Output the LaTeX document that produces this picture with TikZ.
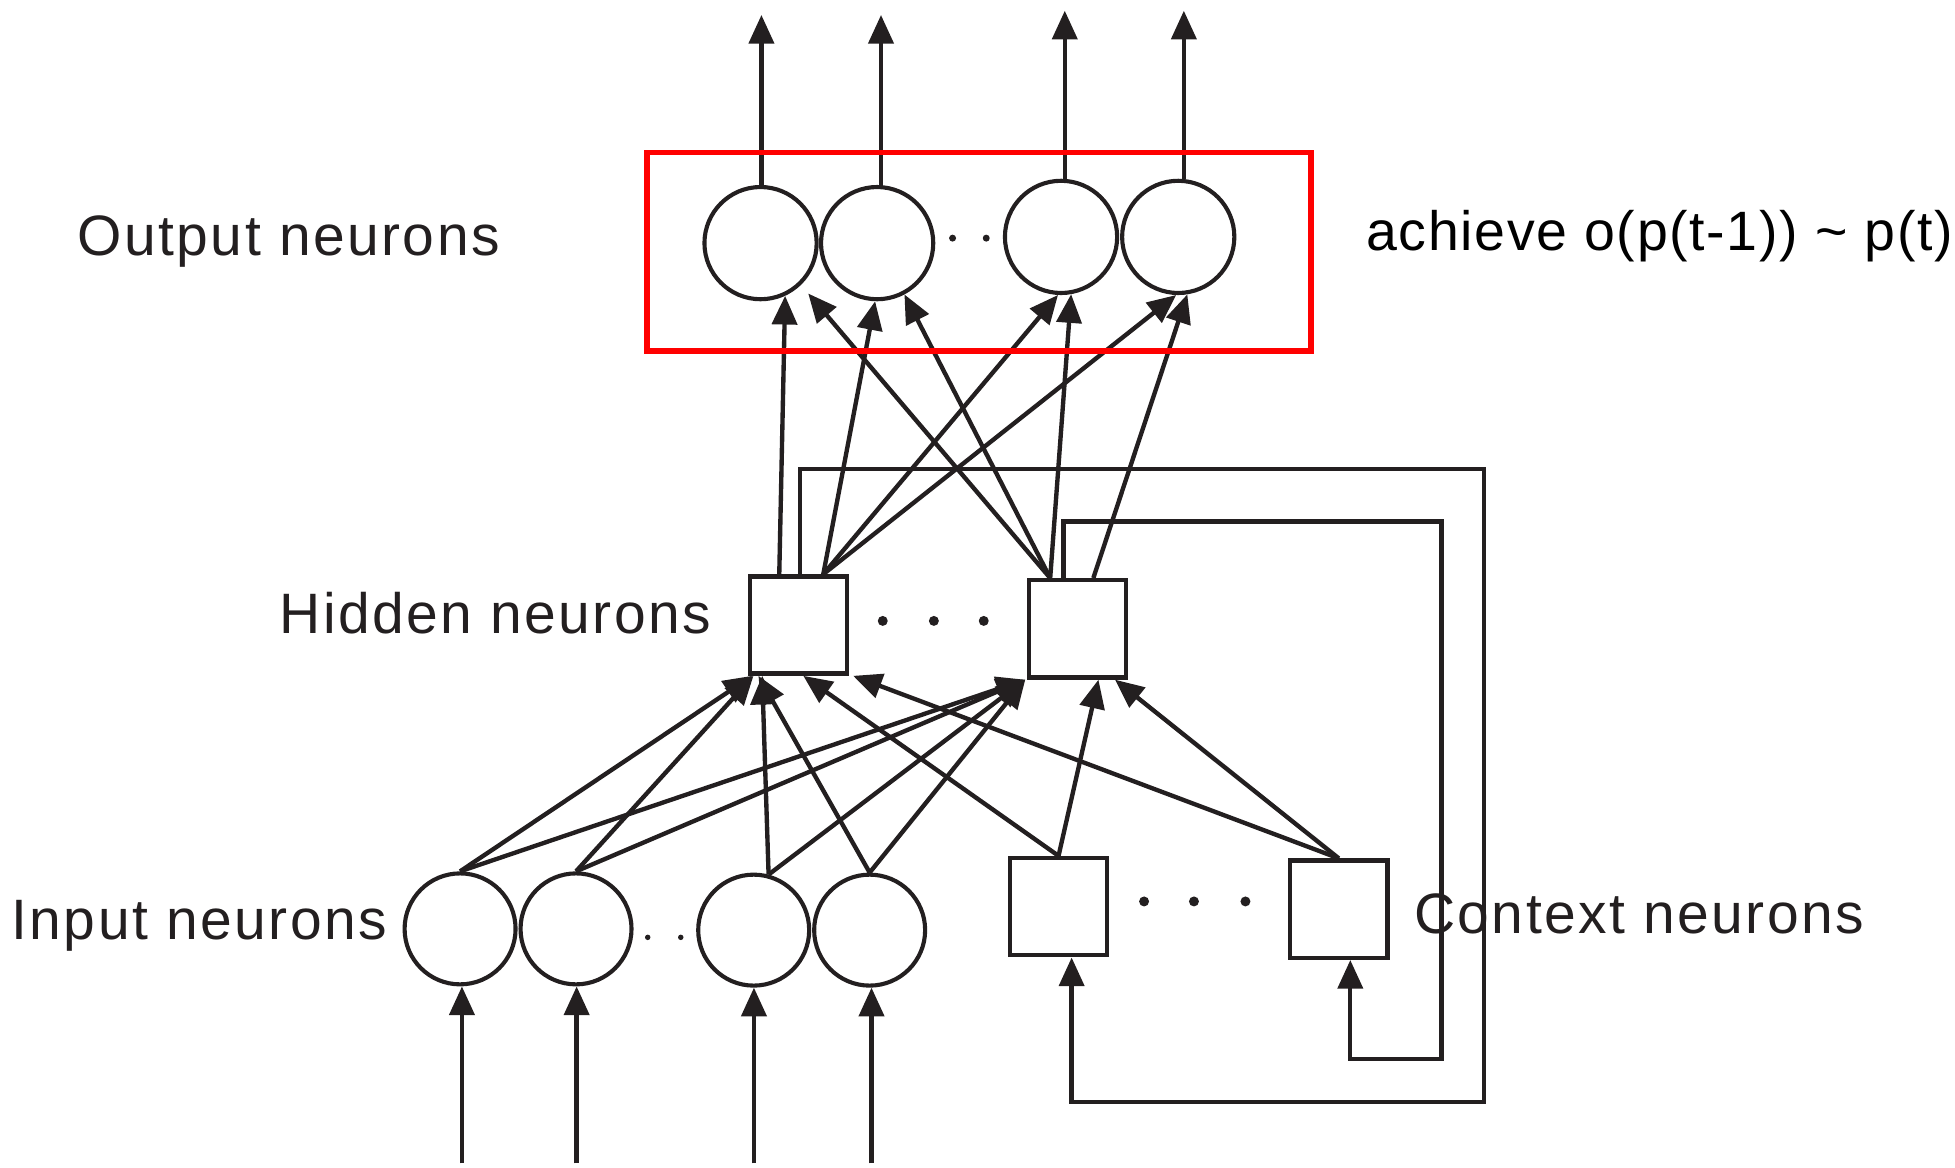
\documentclass[tikz,border=0pt]{standalone}
\usepackage{fontspec}
\usetikzlibrary{arrows.meta}
\newfontfamily\lblfont[LetterSpace=4.3]{Liberation Sans}
\newfontfamily\notefont[LetterSpace=3]{Liberation Sans}
\definecolor{ink}{HTML}{231F20}
\begin{document}
\begin{tikzpicture}[x=1pt,y=-1pt,
  ln/.style={line width=3.5pt, draw=ink},
  arr/.style={ln, -{Triangle[length=23pt,width=20pt]}},
  neuron/.style={circle, draw=ink, line width=3.3pt, minimum size=90pt, inner sep=0pt},
  unitbox/.style={rectangle, draw=ink, line width=3.5pt, minimum width=78pt, minimum height=78pt, inner sep=0pt},
  lbl/.style={anchor=base west, inner sep=0pt, text=ink, font=\lblfont\fontsize{45.7}{50}\selectfont},
  note/.style={anchor=base west, inner sep=0pt, text=black, font=\notefont\fontsize{44.5}{48}\selectfont},
  hlbox/.style={rectangle, draw=red, line width=4.5pt, inner sep=0pt}
]
\useasboundingbox (0,0) rectangle (1568,936);

% output neurons
\node[neuron] (o1) at (610,195) {};
\node[neuron] (o2) at (703.5,195) {};
\node[neuron] (o3) at (851,190) {};
\node[neuron] (o4) at (945,190) {};
\fill[ink] (764,191) circle (2.8pt) (791,191) circle (2.8pt);

% hidden neurons
\node[unitbox] (h1) at (640.3,501.3) {};
\node[unitbox] (h2) at (864.3,504.4) {};
\fill[ink] (708,498) circle (4pt) (749,498) circle (4pt) (789,498) circle (4pt);

% input neurons
\node[neuron, minimum size=89pt] (i1) at (369,745) {};
\node[neuron, minimum size=89pt] (i2) at (462,745) {};
\node[neuron, minimum size=89pt] (i3) at (604.5,746) {};
\node[neuron, minimum size=89pt] (i4) at (697.5,746) {};
\fill[ink] (519.5,751.8) circle (2.2pt) (546,751.8) circle (2.2pt);

% context neurons
\node[unitbox] (c1) at (849,727.2) {};
\node[unitbox] (c2) at (1073.8,729.2) {};
\fill[ink] (917.6,723) circle (4pt) (957.6,723) circle (4pt) (998.9,723) circle (4pt);

% labels
\node[lbl] (lo) at (62,205) {Output neurons};
\node[lbl] (lh) at (224,507.7) {Hidden neurons};
\node[lbl] (li) at (9,753.3) {Input neurons};
\node[lbl] (lc) at (1134,748.6) {Context neurons};
\node[note] (la) at (1095.5,201) {achieve o(p(t-1)) \textasciitilde{} p(t)};

% output arrows
\coordinate (up1) at (610.7,12);
\coordinate (up2) at (706.6,12);
\coordinate (up3) at (854,8.6);
\coordinate (up4) at (949.5,8.6);
\draw[arr] (o1.north -| up1) -- (up1);
\draw[arr] (o2.north -| up2) -- (up2);
\draw[arr] (o3.north -| up3) -- (up3);
\draw[arr] (o4.north -| up4) -- (up4);

% input arrows
\coordinate (in1) at (370.5,933);
\coordinate (in2) at (462.5,933);
\coordinate (in3) at (604.7,933);
\coordinate (in4) at (699,933);
\draw[arr] (in1) -- (in1 |- i1.south);
\draw[arr] (in2) -- (in2 |- i2.south);
\draw[arr] (in3) -- (in3 |- i3.south);
\draw[arr] (in4) -- (in4 |- i4.south);

% input/context -> hidden
\draw[arr] (i1.north) -- ([xshift=-37pt]h1.south);
\draw[arr] (i2.north) -- ([xshift=-36pt]h1.south);
\draw[arr] (i3.75) -- ([xshift=-29pt]h1.south);
\draw[arr] (i4.north) -- ([xshift=-32pt]h1.south);
\draw[arr] (c1.north) -- ([xshift=4pt]h1.south);
\draw[arr] (c2.north) -- ([xshift=44pt]h1.south);
\draw[arr] (i1.north) -- ([xshift=-42pt]h2.south);
\draw[arr] (i2.north) -- ([xshift=-42pt]h2.south);
\draw[arr] (i3.75) -- ([xshift=-42pt]h2.south);
\draw[arr] (i4.north) -- ([xshift=-42pt]h2.south);
\draw[arr] (c1.north) -- ([xshift=16.7pt]h2.south);
\draw[arr] (c2.north) -- ([xshift=30pt]h2.south);

% hidden -> output
\coordinate (h1a) at ([xshift=-15.3pt]h1.north);
\coordinate (h1b) at ([xshift=20pt]h1.north);
\coordinate (h2a) at ([xshift=-22pt]h2.north);
\coordinate (h2b) at ([xshift=12.6pt]h2.north);
\draw[arr] (h1a) -- (o1.-65);
\draw[arr, shorten >=9pt] (h2a) -- (o1.-46);
\draw[arr] (h1b) -- (o2.-92);
\draw[arr] (h2a) -- (o2.-62);
\draw[arr] (h1b) -- (o3.-93);
\draw[arr] (h2a) -- (o3.-80);
\draw[arr] (h1b) -- (o4.-92);
\draw[arr] (h2b) -- (o4.-81);

% feedback loops
\coordinate (h1f) at ([xshift=1.4pt]h1.north);
\coordinate (h2f) at ([xshift=-11.4pt]h2.north);
\coordinate (loopA) at (1190,376.4);
\coordinate (loopB) at (1190,883.6);
\coordinate (loopC) at (1156,418.4);
\coordinate (loopD) at (1156,849.4);
\draw[arr, line join=miter] (h1f) |- (loopA) -- (loopB) -| ([xshift=10.5pt]c1.south);
\draw[arr, line join=miter] (h2f) |- (loopC) -- (loopD) -| ([xshift=9.2pt]c2.south);

% highlight box
\node[hlbox, minimum width=532.6pt, minimum height=159.4pt] (hl) at (785,202) {};
\end{tikzpicture}
\end{document}
